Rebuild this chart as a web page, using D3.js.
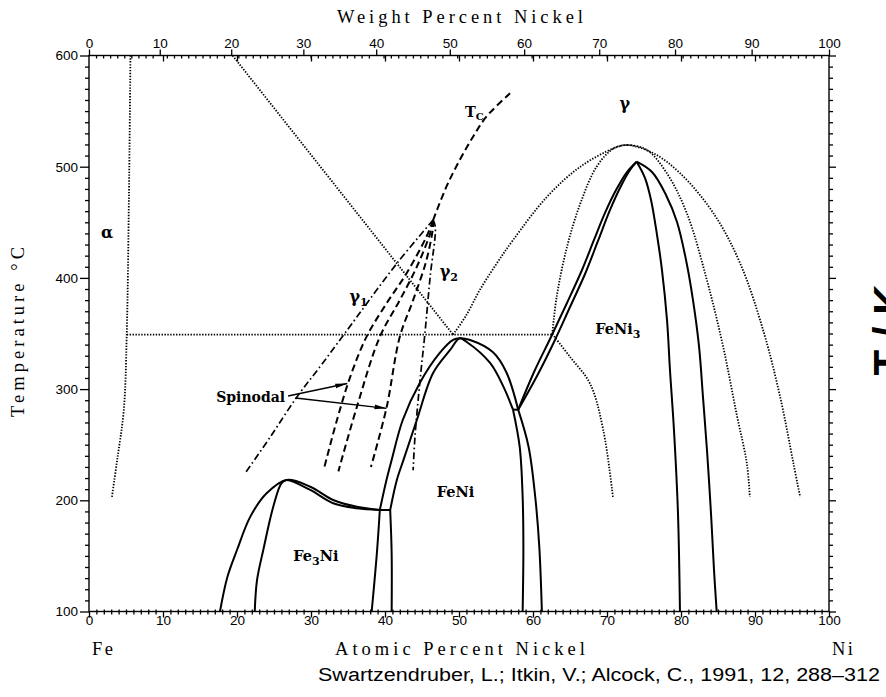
<!DOCTYPE html>
<html>
<head>
<meta charset="utf-8">
<script src="https://cdn.jsdelivr.net/npm/d3@7"></script>
<style>
  html, body { margin: 0; padding: 0; background: #fff; }
  svg { display: block; }
</style>
</head>
<body>
<svg id="chart" width="886" height="697"></svg>
<script>
// ---- Fe–Ni low-temperature phase diagram (composition in at.% Ni, temperature in °C) ----

// axis ticks
const atomicTicks = d3.range(0, 101, 10);
const weightTicks = d3.range(0, 101, 10);
const tempTicks = d3.range(100, 601, 100);

// magnetic / metastable boundaries (dotted)
const alphaBoundary   = [[5.6, 600], [5.4, 475], [5.1, 349], [4.7, 281], [3.8, 236], [3.1, 203]];
const eutectoidLine   = [[5.1, 349], [62.6, 349]];
const alphaCurieLine  = [[19.4, 600], [49.2, 349]];
const outerOrderDome  = [[49.2, 349], [51.0, 366.6], [52.8, 389], [55.1, 413], [57.3, 434], [61.9, 473],
                         [66.4, 500], [70.9, 516.5], [72.7, 519.5], [76.3, 512], [79.9, 494], [84.4, 458],
                         [88.0, 413], [91.1, 353], [93.4, 293], [95.2, 233], [96.1, 203]];
const innerOrderDome  = [[62.6, 349.5], [63.2, 383], [64.6, 428], [66.4, 467], [68.6, 500], [70.9, 516.5],
                         [72.7, 519.5], [75.4, 515], [78.1, 494], [80.8, 458], [83.5, 398], [85.7, 338],
                         [87.5, 278], [88.9, 233], [89.3, 203]];
const innerDomeLower  = [[62.6, 349.5], [65.0, 329], [67.7, 305], [69.5, 263], [70.8, 203]];

// miscibility gap in gamma (dash-dot) and spinodals / Curie temperature (dashed)
const gamma1Boundary  = [[46.5, 452], [41.6, 413], [34.6, 350.4], [31.2, 320], [28.1, 293], [24.5, 257], [21.1, 224.3]];
const gamma2Boundary  = [[46.5, 452], [46.8, 446], [46.1, 401], [45.4, 350.5], [44.7, 305.5], [44.05, 257], [43.8, 227]];
const spinodalA       = [[46.5, 452], [45.6, 437], [42.9, 404], [40.2, 377], [37.5, 347], [35.3, 311], [33.5, 272], [31.7, 227]];
const spinodalB       = [[46.5, 452], [46.1, 440], [44.3, 410], [42.0, 380], [39.3, 347], [36.2, 284], [33.7, 226]];
const spinodalC       = [[46.5, 452], [46.5, 446], [45.6, 416], [43.8, 380], [42.0, 347], [40.2, 283], [38.1, 230]];
const curieTc         = [[46.5, 452], [48.3, 482], [50.1, 506], [51.9, 527], [53.7, 545], [56.9, 566]];

// ordered phases (solid)
const fe3niOuter      = [[17.7, 100], [18.7, 131], [20.0, 155.3], [21.8, 185.3], [24.0, 206.3], [26.7, 218.3],
                         [29.9, 212.2], [33.0, 200.3], [36.2, 194.2], [39.3, 191.3]];
const fe3niInner      = [[22.4, 100], [22.7, 128], [23.55, 155.3], [24.9, 194.2], [26.0, 215.3], [26.7, 218.3],
                         [29.9, 209.3], [33.0, 197.3], [36.2, 192.8], [39.3, 191.3]];
const feniOuter       = [[39.3, 191.3], [40.2, 218.3], [40.9, 236.3], [42.4, 272.2], [44.7, 305.5], [47.4, 332.5],
                         [49.2, 344.2], [50.1, 345.7], [51.5, 344.2], [54.6, 333.1], [56.4, 315.2], [58.0, 281.5]];
const feniInner       = [[40.7, 191.3], [41.6, 218.3], [42.5, 236.3], [44.3, 272.2], [46.5, 314.5], [48.8, 335.2],
                         [50.1, 345.7], [51.0, 342.6], [54.2, 323.5], [56.0, 302.2], [57.3, 281.5]];
const legFe3NiA       = [[39.3, 191.3], [38.9, 152.3], [38.2, 100]];
const legFe3NiB       = [[40.7, 191.3], [40.9, 152], [40.9, 100]];
const legFeNiA        = [[57.3, 281.5], [58.2, 248.2], [58.6, 203.2], [58.7, 158.3], [58.6, 100]];
const legFeNiB        = [[58.0, 281.5], [59.4, 248.2], [60.3, 203.2], [60.85, 158.3], [61.2, 100]];
const tieFe3Ni        = [[39.3, 191.3], [40.7, 191.3]];
const tieFeNi         = [[57.3, 281.5], [58.0, 281.5]];
const feni3LeftOuter  = [[58.0, 281.5], [60.14, 315.4], [62.43, 346.9], [64.59, 377.4], [66.62, 407.1], [68.24, 434.1],
                         [69.73, 458.4], [71.22, 479.0], [72.70, 495.2], [74.01, 504.5]];
const feni3LeftInner  = [[58.0, 281.5], [60.54, 311.8], [62.84, 342.4], [65.0, 373.8], [67.03, 403.5], [68.78, 433.2],
                         [70.41, 461.1], [71.89, 482.6], [73.11, 497.0], [74.01, 504.5]];
const feni3RightInner = [[74.01, 504.5], [75.14, 489.8], [75.95, 470.1], [76.76, 438.6], [77.43, 407.1], [78.11, 362.1],
                         [78.51, 317.2], [79.05, 263.2], [79.59, 188.6], [79.86, 100]];
const feni3RightOuter = [[74.01, 504.5], [76.08, 495.2], [77.97, 474.6], [79.46, 450.3], [80.68, 416.1], [81.62, 380.1],
                         [82.43, 338.8], [82.97, 292.9], [83.51, 245.2], [84.05, 188.6], [84.46, 137.3], [84.82, 100]];

// spinodal pointer arrows: [from, to]
const spinodalArrows  = [[[26.9, 293.8], [34.9, 305.0]], [[27.9, 292.0], [40.2, 282.7]]];

// ---- layout ----
const svg = d3.select('#chart');
const plotLeft = 89, plotRight = 829, plotTop = 55.5, plotBottom = 611.5;
const x = d3.scaleLinear().domain([0, 100]).range([plotLeft, plotRight]);
const y = d3.scaleLinear().domain([100, 600]).range([plotBottom, plotTop]);
const wtToAt = w => { const a = w / 58.693, b = (100 - w) / 55.845; return 100 * a / (a + b); };

const lineStyles = {
  solid:   { w: 2.0, dash: null },
  dotted:  { w: 1.8, dash: '1.4,1.5' },
  dashed:  { w: 2.0, dash: '7,4' },
  dashdot: { w: 1.7, dash: '7,3,1.6,3' }
};

const smooth = d3.line().x(d => x(d[0])).y(d => y(d[1])).curve(d3.curveCatmullRom.alpha(0.5));
const straight = d3.line().x(d => x(d[0])).y(d => y(d[1]));

const plot = svg.append('g').attr('class', 'curves');
function draw(pts, style, gen) {
  const s = lineStyles[style];
  plot.append('path')
    .attr('d', (gen || smooth)(pts))
    .attr('fill', 'none')
    .attr('stroke', '#000')
    .attr('stroke-width', s.w)
    .attr('stroke-linejoin', 'round')
    .attr('stroke-dasharray', s.dash);
}

// dotted
draw(alphaBoundary, 'dotted');
draw(eutectoidLine, 'dotted', straight);
draw(alphaCurieLine, 'dotted', straight);
draw(outerOrderDome, 'dotted');
draw(innerOrderDome, 'dotted');
draw(innerDomeLower, 'dotted');
// dash-dot and dashed
draw(gamma1Boundary, 'dashdot');
draw(gamma2Boundary, 'dashdot');
draw(spinodalA, 'dashed');
draw(spinodalB, 'dashed');
draw(spinodalC, 'dashed');
draw(curieTc, 'dashed');
// solid phase boundaries
[fe3niOuter, fe3niInner, feniOuter, feniInner, legFe3NiA, legFe3NiB, legFeNiA, legFeNiB,
 feni3LeftOuter, feni3LeftInner, feni3RightInner, feni3RightOuter].forEach(c => draw(c, 'solid'));
draw(tieFe3Ni, 'solid', straight);
draw(tieFeNi, 'solid', straight);

// arrows
svg.append('defs').append('marker')
  .attr('id', 'arrowhead').attr('viewBox', '0 0 12 6')
  .attr('refX', 12).attr('refY', 3)
  .attr('markerWidth', 12).attr('markerHeight', 6)
  .attr('markerUnits', 'userSpaceOnUse').attr('orient', 'auto')
  .append('path').attr('d', 'M0,0.6 L12,3 L0,5.4 Z').attr('fill', '#000');
spinodalArrows.forEach(a => {
  svg.append('line')
    .attr('x1', x(a[0][0])).attr('y1', y(a[0][1]))
    .attr('x2', x(a[1][0])).attr('y2', y(a[1][1]))
    .attr('stroke', '#000').attr('stroke-width', 1.4)
    .attr('marker-end', 'url(#arrowhead)');
});

// ---- axes ----
const tickFont = "'Liberation Sans', Arial, sans-serif";
function styleAxis(g, labels) {
  g.select('.domain').remove();
  g.selectAll('.tick line').attr('stroke', '#000').attr('stroke-width', 1.3);
  g.selectAll('text').attr('font-family', tickFont).attr('font-size', 13.5).attr('fill', '#000');
  if (!labels) g.selectAll('text').remove();
}

// bottom: atomic percent
const minorAt = d3.range(1, 100).filter(v => v % 10 !== 0);
svg.append('g').attr('transform', `translate(0,${plotBottom})`)
  .call(d3.axisBottom(x).tickValues(atomicTicks).tickSize(6).tickFormat(d3.format('d')))
  .call(g => styleAxis(g, true))
  .call(g => g.selectAll('text').attr('y', 3.5).attr('dy', '0.71em'));
svg.append('g').attr('transform', `translate(0,${plotBottom - 2})`)
  .call(d3.axisBottom(x).tickValues(minorAt).tickSize(5))
  .call(g => styleAxis(g, false));

// top: weight percent labels outward, atomic percent majors inward
svg.append('g').attr('transform', `translate(0,${plotTop})`)
  .call(d3.axisTop(x).tickValues(weightTicks.map(wtToAt)).tickSize(6).tickPadding(2)
    .tickFormat((d, i) => weightTicks[i]))
  .call(g => styleAxis(g, true));
svg.append('g').attr('transform', `translate(0,${plotTop})`)
  .call(d3.axisBottom(x).tickValues(atomicTicks.slice(1, -1)).tickSize(6))
  .call(g => styleAxis(g, false));
const minorWt = d3.range(1, 100).filter(v => v % 10 !== 0).map(wtToAt);
svg.append('g').attr('transform', `translate(0,${plotTop})`)
  .call(d3.axisBottom(x).tickValues(minorWt).tickSize(3))
  .call(g => styleAxis(g, false));

// left and right: temperature
const minorT = d3.range(110, 600, 10).filter(v => v % 100 !== 0);
svg.append('g').attr('transform', `translate(${plotLeft},0)`)
  .call(d3.axisLeft(y).tickValues(tempTicks).tickSize(9).tickPadding(2).tickFormat(d3.format('d')))
  .call(g => styleAxis(g, true));
svg.append('g').attr('transform', `translate(${plotLeft},0)`)
  .call(d3.axisLeft(y).tickValues(minorT).tickSize(4))
  .call(g => styleAxis(g, false));
svg.append('g').attr('transform', `translate(${plotRight},0)`)
  .call(d3.axisRight(y).tickValues(tempTicks).tickSize(7))
  .call(g => styleAxis(g, false));
svg.append('g').attr('transform', `translate(${plotRight},0)`)
  .call(d3.axisRight(y).tickValues(minorT).tickSize(4))
  .call(g => styleAxis(g, false));

// frame
svg.append('rect')
  .attr('x', plotLeft).attr('y', plotTop).attr('width', plotRight - plotLeft).attr('height', plotBottom - plotTop)
  .attr('fill', 'none').attr('stroke', '#000').attr('stroke-width', 1.4);

// ---- titles ----
const serif = "'Liberation Serif', 'Times New Roman', serif";
svg.append('text').text('Weight Percent Nickel')
  .attr('x', 460).attr('y', 23).attr('text-anchor', 'middle')
  .attr('font-family', serif).attr('font-size', 18.5)
  .attr('textLength', 246).attr('lengthAdjust', 'spacing');
svg.append('text').text('Atomic Percent Nickel')
  .attr('x', 460).attr('y', 655).attr('text-anchor', 'middle')
  .attr('font-family', serif).attr('font-size', 18.5)
  .attr('textLength', 250).attr('lengthAdjust', 'spacing');
svg.append('text').text('Fe').attr('x', 92).attr('y', 655)
  .attr('font-family', serif).attr('font-size', 18.5).attr('textLength', 21).attr('lengthAdjust', 'spacing');
svg.append('text').text('Ni').attr('x', 832).attr('y', 655)
  .attr('font-family', serif).attr('font-size', 18.5).attr('textLength', 21).attr('lengthAdjust', 'spacing');
svg.append('text').text('Temperature °C')
  .attr('transform', 'translate(24,332) rotate(-90)').attr('text-anchor', 'middle')
  .attr('font-family', serif).attr('font-size', 18.5)
  .attr('textLength', 170).attr('lengthAdjust', 'spacing');
// right-hand Kelvin axis title, running off the page edge
svg.append('text').text('T / K')
  .attr('transform', 'translate(903,330) rotate(-90)').attr('text-anchor', 'middle')
  .attr('font-family', "'Liberation Sans', Arial, sans-serif").attr('font-weight', 'bold').attr('font-size', 42);
svg.append('text').text('Swartzendruber, L.; Itkin, V.; Alcock, C., 1991, 12, 288–312')
  .attr('x', 880).attr('y', 681).attr('text-anchor', 'end')
  .attr('font-family', "'Liberation Sans', Arial, sans-serif").attr('font-size', 18)
  .attr('textLength', 562).attr('lengthAdjust', 'spacingAndGlyphs');

// ---- region labels ----
const labelFont = "'DejaVu Serif', serif";
function label(txt, at, t, anchor) {
  return svg.append('text').attr('x', x(at)).attr('y', y(t))
    .attr('text-anchor', anchor || 'start')
    .attr('font-family', labelFont).attr('font-weight', 'bold').attr('font-size', 14.5).text(txt);
}
label('α', 2.45, 435.5, 'middle').attr('font-size', 16);
label('γ', 72.4, 551.5, 'middle').attr('font-size', 16);
label('Spinodal', 26.5, 288.4, 'end').attr('font-size', 14);
label('FeNi', 47.0, 203, 'start');
const fe3ni = label('Fe', 27.6, 145.4, 'start');
fe3ni.append('tspan').attr('dy', 4).attr('font-size', 11).text('3');
fe3ni.append('tspan').attr('dy', -4).text('Ni');
const feni3 = label('FeNi', 68.4, 349.6, 'start');
feni3.append('tspan').attr('dy', 4).attr('font-size', 11).text('3');
const g1 = label('γ', 35.2, 378.5, 'start').attr('font-size', 16);
g1.append('tspan').attr('dy', 4).attr('font-size', 11).text('1');
const g2 = label('γ', 47.4, 401, 'start').attr('font-size', 16);
g2.append('tspan').attr('dy', 4).attr('font-size', 11).text('2');
const tc = label('T', 50.8, 544.7, 'start');
tc.append('tspan').attr('dy', 3).attr('font-size', 10).text('C');
</script>
</body>
</html>
